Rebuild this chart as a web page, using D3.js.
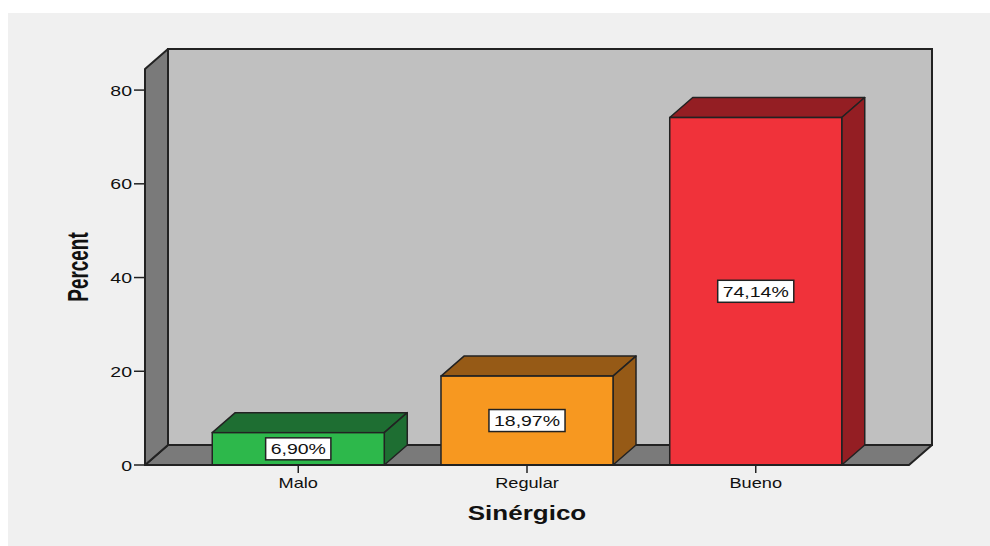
<!DOCTYPE html>
<html><head><meta charset="utf-8">
<script src="https://cdn.jsdelivr.net/npm/d3@7"></script>
<style>
html,body{margin:0;padding:0;background:#ffffff;}
svg{display:block;}
text{font-family:Arial,"Liberation Sans",sans-serif;fill:#111;}
</style></head>
<body>
<script>
const categories = ["Malo", "Regular", "Bueno"];
const values = [6.90, 18.97, 74.14];
const yTicks = [0, 20, 40, 60, 80];
const frontColors = ["#2db84b", "#f79820", "#f0323a"];
const darkColors = ["#1e6e32", "#965a16", "#941e23"];
const xTitle = "Sinérgico";
const yTitle = "Percent";

const W = 990, H = 546;
const DX = 23, DY = 20;
const SX = 1.3; // horizontal stretch of text

const svg = d3.select("body").append("svg").attr("width", W).attr("height", H);
svg.append("rect").attr("x", 8).attr("y", 13).attr("width", W - 8).attr("height", H - 13).attr("fill", "#f0f0f0");

const x = d3.scaleBand().domain(categories).range([145, 909]).paddingInner(0.248).paddingOuter(0.294);
const y = d3.scaleLinear().domain([0, 84.5]).range([465, 69]);

const x0 = x.range()[0], x1 = x.range()[1];
const yb = y(0), yt = y(84.5);
const stroke = "#222";

// back wall
svg.append("rect").attr("x", x0 + DX).attr("y", yt - DY).attr("width", x1 - x0).attr("height", yb - yt)
  .attr("fill", "#c0c0c0").attr("stroke", stroke).attr("stroke-width", 2);
// floor
svg.append("polygon").attr("points", [[x0, yb], [x1, yb], [x1 + DX, yb - DY], [x0 + DX, yb - DY]].map(p => p.join(",")).join(" "))
  .attr("fill", "#7a7a7a").attr("stroke", stroke).attr("stroke-width", 2).attr("stroke-linejoin", "round");
// left wall
svg.append("polygon").attr("points", [[x0, yb], [x0, yt], [x0 + DX, yt - DY], [x0 + DX, yb - DY]].map(p => p.join(",")).join(" "))
  .attr("fill", "#7a7a7a").attr("stroke", stroke).attr("stroke-width", 2).attr("stroke-linejoin", "round");

// bars
categories.forEach((c, i) => {
  const bx = x(c), bw = x.bandwidth(), ty = y(values[i]);
  const g = svg.append("g");
  g.append("polygon").attr("points", [[bx, ty], [bx + DX, ty - DY], [bx + bw + DX, ty - DY], [bx + bw, ty]].map(p => p.join(",")).join(" "))
    .attr("fill", darkColors[i]).attr("stroke", stroke).attr("stroke-width", 1.5).attr("stroke-linejoin", "round");
  g.append("polygon").attr("points", [[bx + bw, ty], [bx + bw + DX, ty - DY], [bx + bw + DX, yb - DY], [bx + bw, yb]].map(p => p.join(",")).join(" "))
    .attr("fill", darkColors[i]).attr("stroke", stroke).attr("stroke-width", 1.5).attr("stroke-linejoin", "round");
  g.append("rect").attr("x", bx).attr("y", ty).attr("width", bw).attr("height", yb - ty)
    .attr("fill", frontColors[i]).attr("stroke", stroke).attr("stroke-width", 1.5);
});

// front axis lines
svg.append("line").attr("x1", x0).attr("x2", x1).attr("y1", yb).attr("y2", yb).attr("stroke", stroke).attr("stroke-width", 2);
svg.append("line").attr("x1", x0).attr("x2", x0).attr("y1", yb).attr("y2", yt).attr("stroke", stroke).attr("stroke-width", 2);

function stretchedText(px, py, str, size, weight, anchor) {
  const g = svg.append("g").attr("transform", `translate(${px},${py}) scale(${SX},1)`);
  return g.append("text").attr("x", 0).attr("y", 0).attr("text-anchor", anchor)
    .attr("font-size", size).attr("font-weight", weight).text(str);
}

// y ticks
yTicks.forEach(t => {
  svg.append("line").attr("x1", x0 - 11).attr("x2", x0).attr("y1", y(t)).attr("y2", y(t)).attr("stroke", stroke).attr("stroke-width", 1.5);
  stretchedText(x0 - 13, y(t) + 5.5, String(t), 15, "normal", "end");
});

// x ticks + labels
categories.forEach(c => {
  const cx = x(c) + x.bandwidth() / 2;
  svg.append("line").attr("x1", cx).attr("x2", cx).attr("y1", yb).attr("y2", yb + 8).attr("stroke", stroke).attr("stroke-width", 1.5);
  stretchedText(cx, 488, c, 14, "normal", "middle");
});

// value labels
categories.forEach((c, i) => {
  const cx = x(c) + x.bandwidth() / 2;
  const cy = (y(values[i]) + yb) / 2;
  const lbl = values[i].toFixed(2).replace(".", ",") + "%";
  const g = svg.append("g");
  const bg = g.append("rect").attr("fill", "#fff").attr("stroke", "#222").attr("stroke-width", 1.5);
  const t = stretchedText(cx, cy + 5.5, lbl, 15, "normal", "middle");
  const tw = t.node().getComputedTextLength() * SX;
  bg.attr("x", cx - tw / 2 - 5).attr("y", cy - 11).attr("width", tw + 10).attr("height", 22);
});

// titles
stretchedText(527, 520, xTitle, 20, "bold", "middle");
svg.append("g").attr("transform", `translate(88,267) rotate(-90) scale(0.86,${SX})`)
  .append("text").attr("text-anchor", "middle").attr("font-size", 22).attr("font-weight", "bold").text(yTitle);
</script>
</body></html>
